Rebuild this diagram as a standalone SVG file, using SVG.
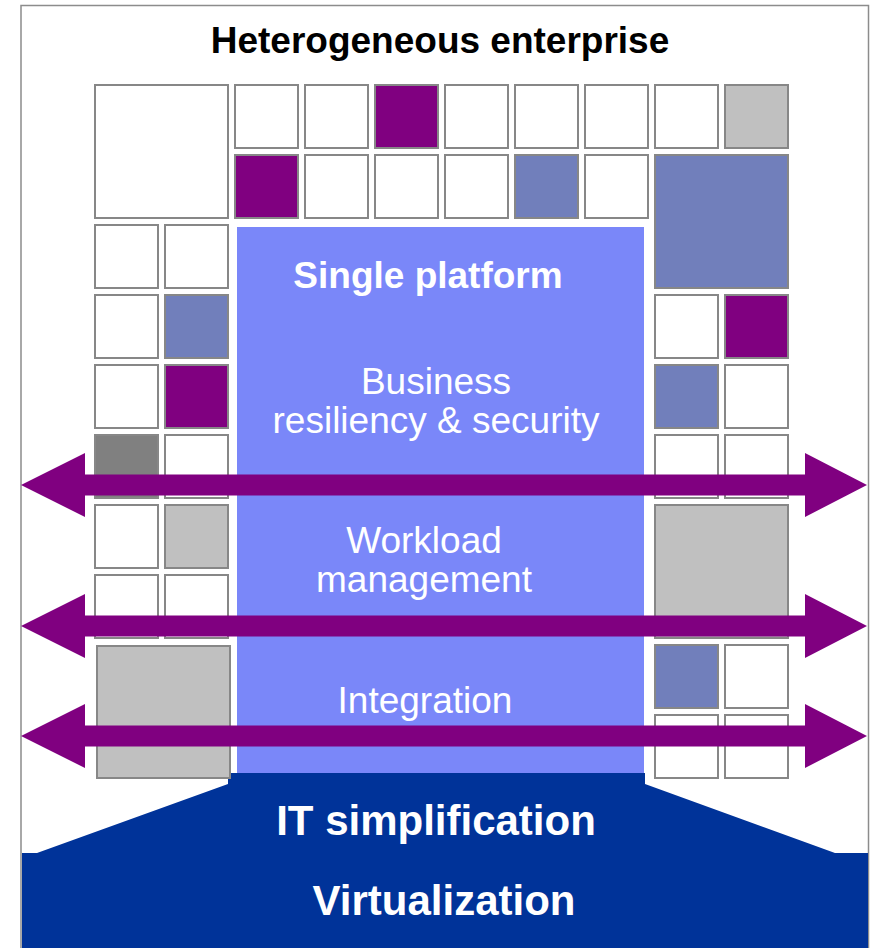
<svg xmlns="http://www.w3.org/2000/svg" xmlns:xlink="http://www.w3.org/1999/xlink" width="872" height="948" viewBox="0 0 872 948">
<style>
.c{stroke:#878787;stroke-width:2}
.w{fill:#ffffff}.p{fill:#800080}.b{fill:#717fbb}.g{fill:#c0c0c0}.d{fill:#808080}
.t{font-family:"Liberation Sans",Arial,sans-serif;text-anchor:middle}
.bold{font-weight:bold}
</style>
<defs>
<polygon id="dblArrow" points="21,0 85,-32 85,-10.5 805,-10.5 805,-32 867,0 805,32 805,10.5 85,10.5 85,32" fill="#800080"/>
</defs>
<rect x="0" y="0" width="872" height="948" fill="#ffffff"/>
<g id="frame">
<rect x="21" y="5.5" width="847.5" height="950" fill="#ffffff" stroke="#8c8c8c" stroke-width="1.5"/>
</g>
<g id="title">
<text class="t bold" x="440" y="53" font-size="37" fill="#000000">Heterogeneous enterprise</text>
</g>
<g id="base">
<path d="M228 773 L645 773 L645 784 L835 853 L868 853 L868 948 L22 948 L22 853 L37 853 L228 784 Z" fill="#003399"/>
<text class="t bold" x="436" y="835" font-size="42" fill="#ffffff">IT simplification</text>
<text class="t bold" x="444" y="915" font-size="42" fill="#ffffff">Virtualization</text>
</g>
<g id="grid">
<rect class="c w" x="95" y="85" width="133" height="133"/>
<rect class="c w" x="235" y="85" width="63" height="63"/>
<rect class="c w" x="305" y="85" width="63" height="63"/>
<rect class="c p" x="375" y="85" width="63" height="63"/>
<rect class="c w" x="445" y="85" width="63" height="63"/>
<rect class="c w" x="515" y="85" width="63" height="63"/>
<rect class="c w" x="585" y="85" width="63" height="63"/>
<rect class="c w" x="655" y="85" width="63" height="63"/>
<rect class="c g" x="725" y="85" width="63" height="63"/>
<rect class="c p" x="235" y="155" width="63" height="63"/>
<rect class="c w" x="305" y="155" width="63" height="63"/>
<rect class="c w" x="375" y="155" width="63" height="63"/>
<rect class="c w" x="445" y="155" width="63" height="63"/>
<rect class="c b" x="515" y="155" width="63" height="63"/>
<rect class="c w" x="585" y="155" width="63" height="63"/>
<rect class="c b" x="655" y="155" width="133" height="133"/>
<rect class="c w" x="95" y="225" width="63" height="63"/>
<rect class="c w" x="165" y="225" width="63" height="63"/>
<rect class="c w" x="95" y="295" width="63" height="63"/>
<rect class="c b" x="165" y="295" width="63" height="63"/>
<rect class="c w" x="95" y="365" width="63" height="63"/>
<rect class="c p" x="165" y="365" width="63" height="63"/>
<rect class="c d" x="95" y="435" width="63" height="63"/>
<rect class="c w" x="165" y="435" width="63" height="63"/>
<rect class="c w" x="95" y="505" width="63" height="63"/>
<rect class="c g" x="165" y="505" width="63" height="63"/>
<rect class="c w" x="95" y="575" width="63" height="63"/>
<rect class="c w" x="165" y="575" width="63" height="63"/>
<rect class="c g" x="97" y="646" width="133" height="132"/>
<rect class="c w" x="655" y="295" width="63" height="63"/>
<rect class="c p" x="725" y="295" width="63" height="63"/>
<rect class="c b" x="655" y="365" width="63" height="63"/>
<rect class="c w" x="725" y="365" width="63" height="63"/>
<rect class="c w" x="655" y="435" width="63" height="63"/>
<rect class="c w" x="725" y="435" width="63" height="63"/>
<rect class="c g" x="655" y="505" width="133" height="133"/>
<rect class="c b" x="655" y="645" width="63" height="63"/>
<rect class="c w" x="725" y="645" width="63" height="63"/>
<rect class="c w" x="655" y="715" width="63" height="63"/>
<rect class="c w" x="725" y="715" width="63" height="63"/>
</g>
<g id="platform">
<rect x="237" y="227" width="407" height="546" fill="#7a87f9"/>
<text class="t bold" x="428" y="288" font-size="37" fill="#ffffff">Single platform</text>
<text class="t" x="436" y="394" font-size="37" fill="#ffffff">Business</text>
<text class="t" x="436" y="433" font-size="37" fill="#ffffff">resiliency &amp; security</text>
<text class="t" x="424" y="553" font-size="37" fill="#ffffff">Workload</text>
<text class="t" x="424" y="592" font-size="37" fill="#ffffff">management</text>
<text class="t" x="425" y="713" font-size="37" fill="#ffffff">Integration</text>
</g>
<g id="connectors">
<use xlink:href="#dblArrow" href="#dblArrow" transform="translate(0,485)"/>
<use xlink:href="#dblArrow" href="#dblArrow" transform="translate(0,626)"/>
<use xlink:href="#dblArrow" href="#dblArrow" transform="translate(0,736)"/>
</g>
</svg>
